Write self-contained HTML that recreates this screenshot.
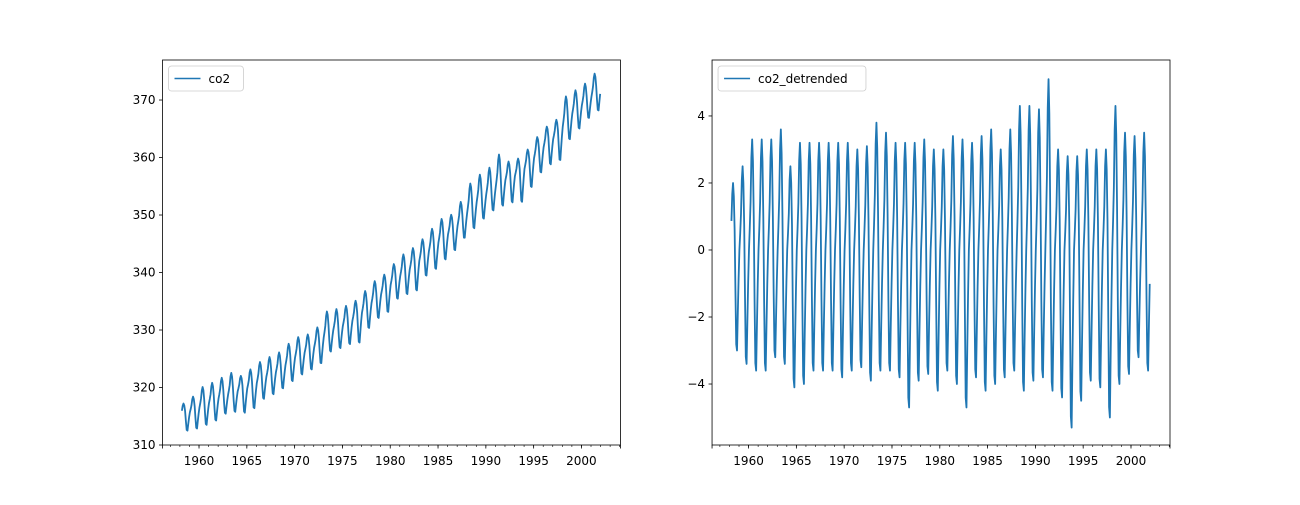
<!DOCTYPE html>
<html><head><meta charset="utf-8"><style>
body{margin:0;background:#fff;}
svg{font-family:"DejaVu Sans","Liberation Sans",sans-serif;}
</style></head><body>
<svg id="fig" width="1300" height="500" xmlns="http://www.w3.org/2000/svg"></svg>
<script>
const years=[1958,1959,1960,1961,1962,1963,1964,1965,1966,1967,1968,1969,1970,1971,1972,1973,1974,1975,1976,1977,1978,1979,1980,1981,1982,1983,1984,1985,1986,1987,1988,1989,1990,1991,1992,1993,1994,1995,1996,1997,1998,1999,2000,2001];
const annualMean=[315.3,316.0,316.9,317.6,318.5,319.0,319.6,320.0,321.4,322.2,323.0,324.6,325.7,326.3,327.5,329.7,330.2,331.1,332.0,333.8,335.4,336.8,338.7,339.9,341.1,342.8,344.4,345.9,347.2,348.9,351.5,352.9,354.2,355.6,356.4,357.1,358.8,360.8,362.6,363.7,366.7,368.4,369.6,371.3];
const peaks=[2.0,2.5,3.3,3.3,3.3,3.6,2.5,3.2,3.2,3.2,3.2,3.2,3.2,3.0,3.1,3.8,3.5,3.2,3.2,3.2,3.3,3.0,3.0,3.4,3.3,3.2,3.4,3.6,3.0,3.6,4.3,4.3,4.2,5.1,3.0,2.8,2.8,3.0,3.0,3.0,4.3,3.5,3.4,3.5];
const troughs=[-3.0,-3.4,-3.6,-3.6,-3.2,-3.4,-4.1,-4.0,-3.6,-3.6,-3.6,-3.8,-3.6,-3.5,-3.9,-3.6,-3.6,-3.8,-4.7,-3.9,-3.7,-4.2,-3.6,-4.0,-4.7,-3.8,-4.2,-4.0,-3.8,-3.6,-4.2,-3.9,-3.8,-4.2,-4.4,-5.3,-4.5,-3.9,-4.1,-5.0,-4.0,-3.7,-3.2,-3.6];
const seasonal=[0.0,0.6,1.3,2.5,3.0,2.4,0.9,-1.3,-3.0,-3.2,-2.0,-0.9];
const leftTicks=[310,320,330,340,350,360,370];
const rightTicks=[-4,-2,0,2,4];
const xTickLabels=[1960,1965,1970,1975,1980,1985,1990,1995,2000];

const NS="http://www.w3.org/2000/svg";
const svg=document.getElementById('fig');
function mk(tag,attrs,parent){const e=document.createElementNS(NS,tag);for(const k in attrs)e.setAttribute(k,attrs[k]);(parent||svg).appendChild(e);return e;}

const t=[],det=[],co2=[];
for(let i=0;i<years.length;i++){
  for(let m=0;m<12;m++){
    if(years[i]===1958&&m<2)continue;
    const s=seasonal[m];
    const d=s>=0?s*peaks[i]/3.0:s*troughs[i]/-3.2;
    const tt=years[i]+(m+0.5)/12;
    const fi=tt-1958.5;let i0=Math.max(0,Math.min(years.length-2,Math.floor(fi)));
    const f=fi-i0;const tr=annualMean[i0]+(annualMean[i0+1]-annualMean[i0])*f;
    t.push(tt);det.push(d);co2.push(tr+d);
  }
}

function panel(x0,x1,y0,y1,xmin,xmax,ymin,ymax,ticks,vals,label,name){
  const g=mk('g',{});
  
  
  const X=v=>x0+(v-xmin)/(xmax-xmin)*(x1-x0);
  const Y=v=>y1-(v-ymin)/(ymax-ymin)*(y1-y0);
  let d='';
  for(let i=0;i<t.length;i++)d+=(i?'L':'M')+X(t[i]).toFixed(2)+','+Y(vals[i]).toFixed(2);
  const p=mk('path',{d:d,fill:'none',stroke:'#1f77b4','stroke-width':1.8,'stroke-linejoin':'round'},g);
  
  
  const fr=mk('rect',{x:x0,y:y0,width:x1-x0,height:y1-y0,fill:'none',stroke:'#000','stroke-width':0.8},g);
  
  
  ticks.forEach(v=>{
    const y=Y(v);
    mk('line',{x1:x0-3.5,x2:x0,y1:y,y2:y,stroke:'#000','stroke-width':0.8},g);
    const tx=mk('text',{x:x0-7,y:y+4,'text-anchor':'end','font-size':'12px',fill:'#000'},g);
    tx.textContent=String(v).replace('-','\u2212');
    
    
  });
  for(let yr=1957;yr<=2004;yr++){
    mk('line',{x1:X(yr),x2:X(yr),y1:y1,y2:y1+2,stroke:'#000','stroke-width':0.6},g);
  }
  mk('line',{x1:x0,x2:x0,y1:y1,y2:y1+3.5,stroke:'#000','stroke-width':0.8},g);
  mk('line',{x1:x1,x2:x1,y1:y1,y2:y1+3.5,stroke:'#000','stroke-width':0.8},g);
  xTickLabels.forEach(v=>{
    mk('line',{x1:X(v),x2:X(v),y1:y1,y2:y1+3.5,stroke:'#000','stroke-width':0.8},g);
    const tx=mk('text',{x:X(v),y:y1+20,'text-anchor':'middle','font-size':'12px',fill:'#000'},g);
    tx.textContent=v;
    
    
  });
  const w=label.length*7.3+53;
  const lg=mk('g',{},g);
  
  
  mk('rect',{x:x0+6,y:y0+6,width:w,height:25,rx:3,fill:'#fff',stroke:'#ccc','stroke-width':0.8},lg);
  mk('line',{x1:x0+12,x2:x0+38,y1:y0+18.5,y2:y0+18.5,stroke:'#1f77b4','stroke-width':1.5},lg);
  const lt=mk('text',{x:x0+46,y:y0+23,'font-size':'12px',fill:'#000'},lg);
  lt.textContent=label;
}
panel(162.5,620.45,60,445,1956.18,2004.08,310,376.96,leftTicks,co2,'co2','co2-panel');
panel(712.05,1170,60,445,1956.18,2004.08,-5.82,5.67,rightTicks,det,'co2_detrended','detrended-panel');
</script>
</body></html>
